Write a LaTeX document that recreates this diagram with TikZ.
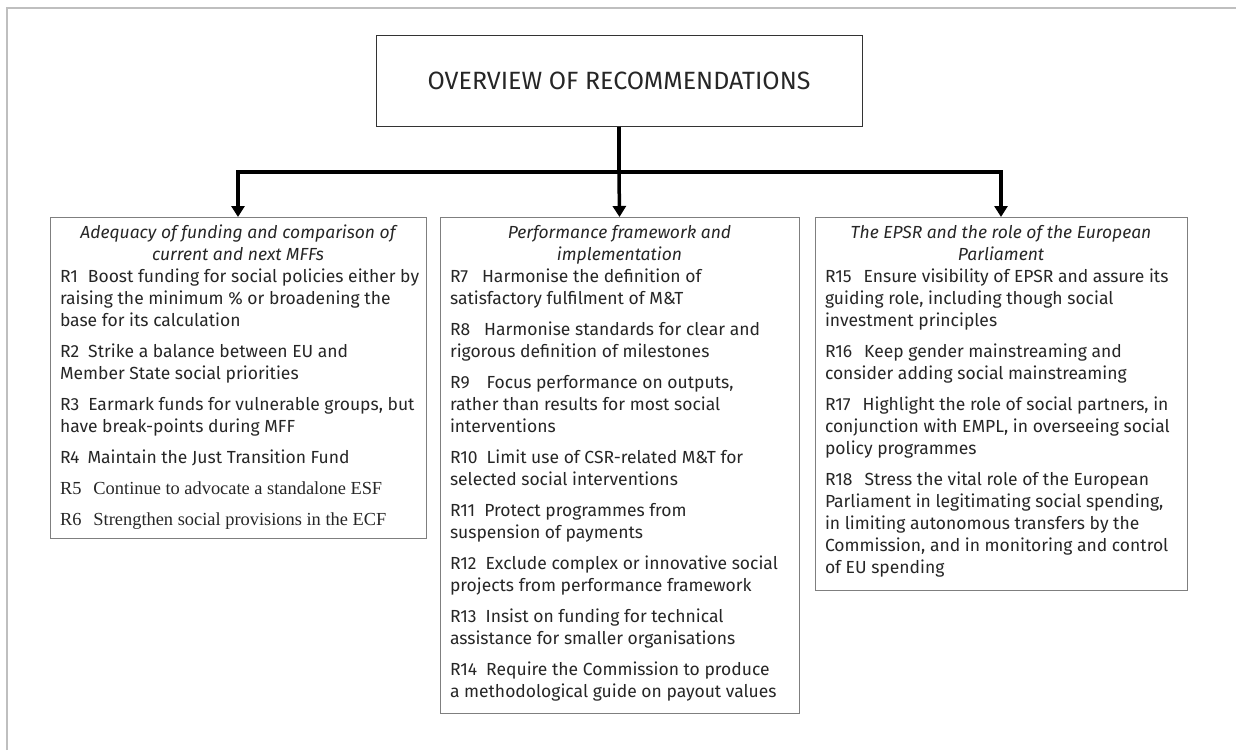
\documentclass[tikz,border=0pt]{standalone}
\usepackage{fontspec}
\setmainfont{Fira Sans}
\newfontfamily\timesfont{Liberation Serif}
\usetikzlibrary{arrows.meta}

\definecolor{framegray}{HTML}{BFBFBF}
\definecolor{boxgray}{HTML}{7F7F7F}
\definecolor{inkgray}{HTML}{262626}

\tikzset{
  titlebox/.style={draw=black!80, line width=1pt, minimum width=486pt,
    minimum height=91pt, text=inkgray, font=\fontsize{25}{30}\selectfont},
  groupbox/.style={draw=boxgray, line width=1pt, inner sep=0pt, anchor=north, text=inkgray},
  trunk/.style={line width=3.5pt},
  link/.style={trunk, -{Triangle[length=11pt,width=13pt]}},
}

% box body: width, height, text
\newcommand{\grouptext}[3]{%
  \begin{minipage}[t][#2][t]{#1}
  \fontsize{17.5}{22}\selectfont\parindent=0pt\parskip=0pt
  #3
  \end{minipage}}
\newcommand{\grouphead}[1]{{\centering\itshape\rule{0pt}{21pt}#1\par}\vspace{-9pt}}
\newcommand{\rec}[3][9pt]{\vspace{9pt}{\raggedright\leftskip=10pt
  \rightskip=-60pt plus 1fil\noindent#2\hspace{#1}#3\par}}
\newcommand{\serifrec}{\timesfont\fontsize{18.4}{22}\selectfont}

\begin{document}
\begin{tikzpicture}[x=1pt,y=-1pt]
  \useasboundingbox (0,0) rectangle (1236,750);
  \draw[framegray, line width=1.5pt] (7,750) -- (7,8) -- (1236,8);

  \node[titlebox] (title) at (619,80.5) {OVERVIEW OF RECOMMENDATIONS};

  \node[groupbox] (fund) at (238,217) {\grouptext{376pt}{321pt}{%
    \grouphead{Adequacy of funding and comparison of\\current and next MFFs}
    \rec[10pt]{R1}{Boost funding for social policies either by\\raising the minimum \% or broadening the\\base for its calculation}
    \rec{R2}{Strike a balance between EU and\\Member State social priorities}
    \rec{R3}{Earmark funds for vulnerable groups, but\\have break-points during MFF}
    \rec[8pt]{R4}{Maintain the Just Transition Fund}
    {\serifrec\rec[12pt]{R5}{Continue to advocate a standalone ESF}}
    {\serifrec\rec[12pt]{R6}{Strengthen social provisions in the ECF}}}};

  \node[groupbox] (perf) at (619.5,217) {\grouptext{359pt}{496pt}{%
    \grouphead{Performance framework and\\implementation}
    \rec[14pt]{R7}{Harmonise the definition of\\satisfactory fulfilment of M\&T}
    \rec[14pt]{R8}{Harmonise standards for clear and\\rigorous definition of milestones}
    \rec[17pt]{R9}{Focus performance on outputs,\\rather than results for most social\\interventions}
    \rec{R10}{Limit use of CSR-related M\&T for\\selected social interventions}
    \rec{R11}{Protect programmes from\\suspension of payments}
    \rec{R12}{Exclude complex or innovative social\\projects from performance framework}
    \rec{R13}{Insist on funding for technical\\assistance for smaller organisations}
    \rec{R14}{Require the Commission to produce\\a methodological guide on payout values}}};

  \node[groupbox] (epsr) at (1001,217) {\grouptext{372pt}{373pt}{%
    \grouphead{The EPSR and the role of the European\\Parliament}
    \rec[12pt]{R15}{Ensure visibility of EPSR and assure its\\guiding role, including though social\\investment principles}
    \rec[12pt]{R16}{Keep gender mainstreaming and\\consider adding social mainstreaming}
    \rec[12pt]{R17}{Highlight the role of social partners, in\\conjunction with EMPL, in overseeing social\\policy programmes}
    \rec[12pt]{R18}{Stress the vital role of the European\\Parliament in legitimating social spending,\\in limiting autonomous transfers by the\\Commission, and in monitoring and control\\of EU spending}}};

  \coordinate (split) at (619,172);
  \draw[trunk] (title.south) -- (split);
  \draw[link] (split) -| (fund.north);
  \draw[link] (split) -- (perf.north);
  \draw[link] (split) -| (epsr.north);
\end{tikzpicture}
\end{document}
